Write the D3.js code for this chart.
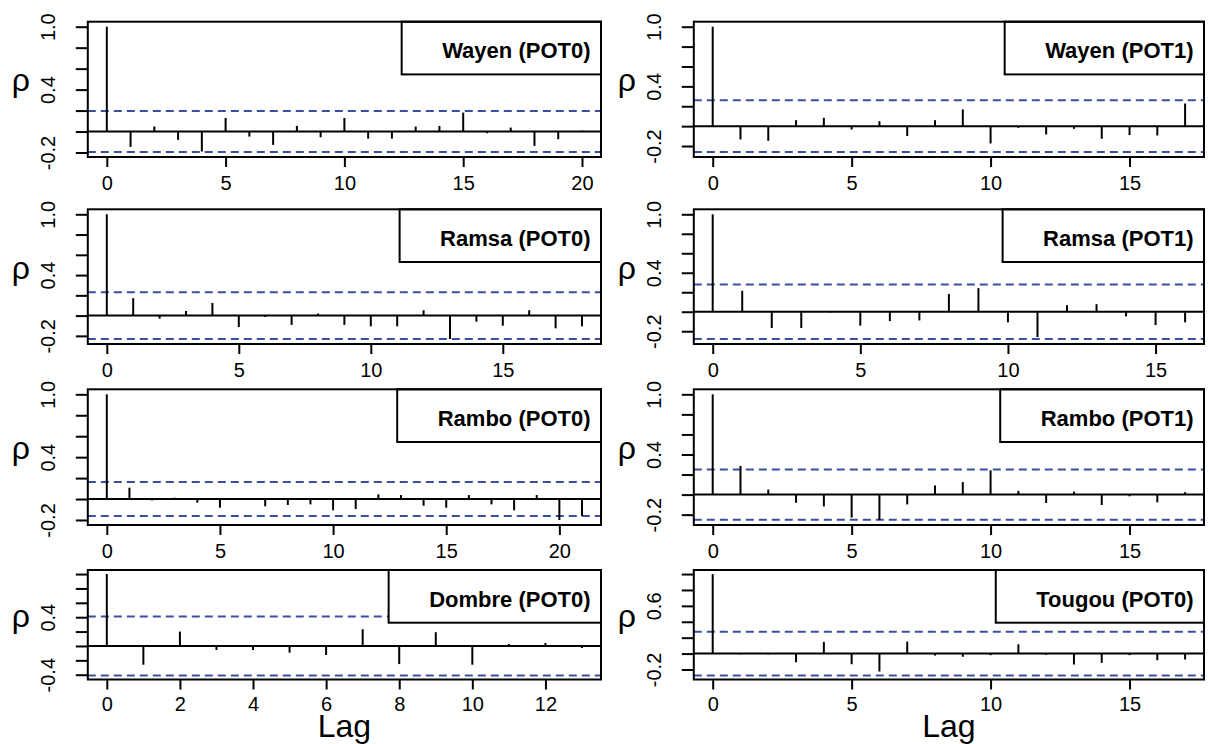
<!DOCTYPE html>
<html>
<head>
<meta charset="utf-8">
<script src="https://cdn.jsdelivr.net/npm/d3@7"></script>
<style>
  html, body { margin: 0; padding: 0; background: #ffffff; }
  svg { display: block; }
  text { font-family: "Liberation Sans", Arial, Helvetica, sans-serif; fill: #000; }
</style>
</head>
<body>
<svg id="chart" width="1208" height="744"></svg>
<script>
// ---------------- data ----------------
const panelTitles = ["Wayen (POT0)", "Wayen (POT1)", "Ramsa (POT0)", "Ramsa (POT1)",
                     "Rambo (POT0)", "Rambo (POT1)", "Dombre (POT0)", "Tougou (POT0)"];

const acfWayenPOT0 = [1.0, -0.146, 0.048, -0.079, -0.19, 0.13, -0.048, -0.127, 0.054, -0.054, 0.13,
                      -0.067, -0.067, 0.048, 0.054, 0.181, -0.016, 0.038, -0.137, -0.073, 0.008];
const acfWayenPOT1 = [1.0, -0.134, -0.147, 0.06, 0.084, -0.034, 0.05, -0.1, 0.06, 0.168, -0.174,
                      -0.017, -0.084, -0.027, -0.127, -0.09, -0.094, 0.228];
const acfRamsaPOT0 = [1.0, 0.172, -0.03, 0.046, 0.125, -0.112, -0.013, -0.092, 0.02, -0.092, -0.106,
                      -0.106, 0.053, -0.231, -0.06, -0.1, 0.053, -0.125, -0.106];
const acfRamsaPOT1 = [1.0, 0.215, -0.167, -0.167, -0.007, -0.143, -0.096, -0.089, 0.181, 0.242, -0.109,
                      -0.26, 0.068, 0.078, -0.048, -0.137, -0.109];
const acfRamboPOT0 = [1.0, 0.108, -0.013, 0.013, -0.035, -0.083, -0.005, -0.07, -0.057, -0.051, -0.108,
                      -0.096, 0.045, 0.038, -0.064, -0.083, 0.038, -0.051, -0.108, 0.038, -0.2, -0.162];
const acfRamboPOT1 = [1.0, 0.286, 0.05, -0.081, -0.118, -0.229, -0.253, -0.098, 0.091, 0.125, 0.242,
                      0.037, -0.084, 0.03, -0.104, -0.017, -0.077, 0.024];
const acfDombrePOT0 = [1.0, -0.261, 0.2, -0.056, -0.056, -0.093, -0.126, 0.233, -0.252, 0.191, -0.261,
                       0.028, 0.042, -0.028];
const acfTougouPOT0 = [1.0, -0.01, -0.01, -0.109, 0.147, -0.134, -0.226, 0.151, -0.025, -0.04, -0.02,
                       0.117, -0.015, -0.138, -0.117, -0.02, -0.084, -0.075];

const acfSeries = [acfWayenPOT0, acfWayenPOT1, acfRamsaPOT0, acfRamsaPOT1,
                   acfRamboPOT0, acfRamboPOT1, acfDombrePOT0, acfTougouPOT0];

// confidence limits (blue dashed lines, +/-)
const confLimits = [0.195, 0.26, 0.23, 0.28, 0.162, 0.25, 0.41, 0.275];

// x-axis tick labels per panel
const xTicksWayenPOT0 = [0, 5, 10, 15, 20];
const xTicksWayenPOT1 = [0, 5, 10, 15];
const xTicksRamsaPOT0 = [0, 5, 10, 15];
const xTicksRamsaPOT1 = [0, 5, 10, 15];
const xTicksRamboPOT0 = [0, 5, 10, 15, 20];
const xTicksRamboPOT1 = [0, 5, 10, 15];
const xTicksDombrePOT0 = [0, 2, 4, 6, 8, 10, 12];
const xTicksTougouPOT0 = [0, 5, 10, 15];
const xTickSets = [xTicksWayenPOT0, xTicksWayenPOT1, xTicksRamsaPOT0, xTicksRamsaPOT1,
                   xTicksRamboPOT0, xTicksRamboPOT1, xTicksDombrePOT0, xTicksTougouPOT0];

// y-axis tick labels that are printed (others are tick marks only)
const yLabelsTop6 = ["1.0", "0.4", "-0.2"];
const yLabelsDombre = ["0.4", "-0.4"];
const yLabelsTougou = ["0.6", "-0.2"];
const yLabelSets = [yLabelsTop6, yLabelsTop6, yLabelsTop6, yLabelsTop6,
                    yLabelsTop6, yLabelsTop6, yLabelsDombre, yLabelsTougou];

const yAxisTitle = "ρ";
const xAxisTitle = "Lag";

// ---------------- layout ----------------
const cols = [{ left: 87.8, right: 601 }, { left: 693.8, right: 1204 }];
const rows = [{ top: 21.7, bottom: 157 }, { top: 209.3, bottom: 344 },
              { top: 389.3, bottom: 525 }, { top: 570, bottom: 679.5 }];
const blue = "#3b4f9f";
const legendH = 52.7;

const svg = d3.select("#chart");
svg.append("rect").attr("width", 1208).attr("height", 744).attr("fill", "#fff");

acfSeries.forEach((acf, i) => {
  const col = cols[i % 2], row = rows[Math.floor(i / 2)];
  const isBottomRow = Math.floor(i / 2) === rows.length - 1;
  const left = col.left, right = col.right, top = row.top, bottom = row.bottom;
  const n = acf.length - 1;
  const clim = confLimits[i];

  const x = d3.scaleLinear().domain([-0.04 * n, 1.04 * n]).range([left, right]);
  const lo = Math.min(-clim, d3.min(acf)), hi = Math.max(clim, d3.max(acf));
  const r = hi - lo;
  const y = d3.scaleLinear().domain([lo - 0.04 * r, hi + 0.04 * r]).range([bottom, top]);

  const g = svg.append("g");

  // dashed confidence lines
  [clim, -clim].forEach(c => {
    g.append("line")
      .attr("x1", left).attr("x2", right)
      .attr("y1", y(c)).attr("y2", y(c))
      .attr("stroke", blue).attr("stroke-width", 2)
      .attr("stroke-dasharray", "8,5");
  });

  // zero line
  g.append("line")
    .attr("x1", left).attr("x2", right)
    .attr("y1", y(0)).attr("y2", y(0))
    .attr("stroke", "#000").attr("stroke-width", 2);

  // acf spikes
  g.selectAll("line.spike").data(acf).enter().append("line")
    .attr("class", "spike")
    .attr("x1", (d, k) => x(k)).attr("x2", (d, k) => x(k))
    .attr("y1", y(0)).attr("y2", d => y(d))
    .attr("stroke", "#000").attr("stroke-width", 2);

  // legend (white box, top-right)
  const legendText = g.append("text")
    .attr("x", right - 10.5).attr("y", top + 36.6)
    .attr("text-anchor", "end")
    .attr("font-size", 22).attr("font-weight", "bold")
    .text(panelTitles[i]);
  const tw = legendText.node().getComputedTextLength();
  g.insert("rect", "text")
    .attr("x", right - tw - 51).attr("y", top)
    .attr("width", tw + 51).attr("height", legendH)
    .attr("fill", "#fff").attr("stroke", "#000").attr("stroke-width", 2);

  // plot box
  g.append("rect")
    .attr("x", left).attr("y", top)
    .attr("width", right - left).attr("height", bottom - top)
    .attr("fill", "none").attr("stroke", "#000").attr("stroke-width", 2);

  // x axis
  const xAxis = g.append("g").attr("transform", `translate(0,${bottom})`)
    .call(d3.axisBottom(x).tickValues(xTickSets[i]).tickSize(10).tickPadding(isBottomRow ? 7 : 9)
      .tickFormat(d3.format("d")));
  xAxis.select(".domain").remove();
  xAxis.selectAll(".tick line").attr("stroke", "#000").attr("stroke-width", 2);
  xAxis.selectAll(".tick text").attr("font-size", 20).attr("font-family", null);

  // y axis
  const yTicks = d3.range(Math.ceil((lo - 0.04 * r) / 0.2 - 1e-9), Math.floor((hi + 0.04 * r) / 0.2 + 1e-9) + 1)
    .map(k => +(k * 0.2).toFixed(1));
  const labels = yLabelSets[i];
  const yAxis = g.append("g").attr("transform", `translate(${left},0)`)
    .call(d3.axisLeft(y).tickValues(yTicks).tickSize(12)
      .tickFormat(d => { const s = d3.format(".1f")(d).replace("−", "-"); return labels.includes(s) ? s : ""; }));
  yAxis.select(".domain").remove();
  yAxis.selectAll(".tick line").attr("stroke", "#000").attr("stroke-width", 2);
  yAxis.selectAll(".tick text")
    .attr("font-size", 20).attr("font-family", null)
    .attr("x", 0).attr("dy", 0)
    .attr("text-anchor", "middle")
    .attr("transform", "translate(-33,0) rotate(-90)");

  // y title
  g.append("text")
    .attr("x", left - 67).attr("y", (top + bottom) / 2 + 2)
    .attr("text-anchor", "middle")
    .attr("font-size", 32)
    .text(yAxisTitle);

  // x title on the bottom row
  if (isBottomRow) {
    g.append("text")
      .attr("x", (left + right) / 2).attr("y", 737)
      .attr("text-anchor", "middle")
      .attr("font-size", 32)
      .text(xAxisTitle);
  }
});
</script>
</body>
</html>
